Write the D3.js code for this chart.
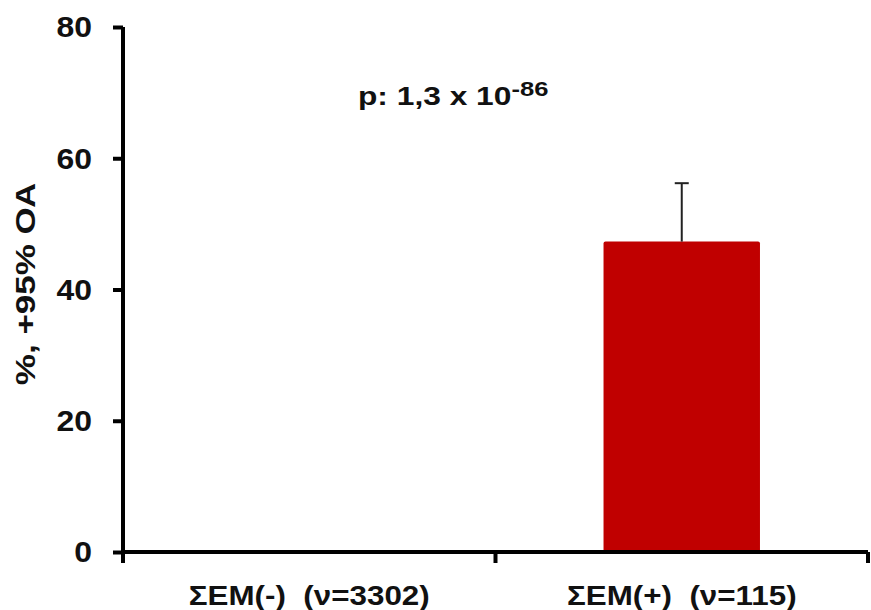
<!DOCTYPE html>
<html>
<head>
<meta charset="utf-8">
<script src="https://cdn.jsdelivr.net/npm/d3@7"></script>
<style>
  body { margin: 0; background: #fff; }
  text { font-family: "Liberation Sans", Arial, sans-serif; font-weight: bold; fill: #111; white-space: pre; }
</style>
</head>
<body>
<div id="chart"></div>
<script>
// data
const categories = ['ΣΕΜ(-)  (ν=3302)', 'ΣΕΜ(+)  (ν=115)'];
const values = [0, 47.3];
const upperCI = [0, 56.2];
const yTicks = [0, 20, 40, 60, 80];

const margin = ({top: 27, right: 3, bottom: 58, left: 123});
const width = 871 - margin.left - margin.right;
const height = 610 - margin.top - margin.bottom;

const svg = d3.select('#chart')
  .append('svg')
  .attr('width', 871)
  .attr('height', 610)
  .append('g')
  .attr('transform', 'translate(' + margin.left + ',' + margin.top + ')');

const xScale = d3.scaleBand()
  .domain(categories)
  .range([0, width])
  .paddingInner(0.58)
  .paddingOuter(0.29);

const xBand = d3.scaleBand().domain(categories).range([0, width]);

const yScale = d3.scaleLinear()
  .domain([0, 80])
  .range([height, 0]);

// bars
svg.selectAll('.bar')
  .data(values)
  .enter()
  .append('rect')
  .attr('class', 'bar')
  .attr('x', (d, i) => xScale(categories[i]))
  .attr('y', d => yScale(d))
  .attr('width', xScale.bandwidth())
  .attr('height', d => height - yScale(d))
  .attr('rx', 2)
  .attr('fill', '#c00000');

// error bars (upper only)
const err = svg.selectAll('.err')
  .data(values.map((v, i) => ({v, hi: upperCI[i], c: categories[i]})).filter(d => d.v > 0))
  .enter()
  .append('g')
  .attr('class', 'err')
  .attr('stroke', '#222')
  .attr('stroke-width', 2);

err.append('line')
  .attr('x1', d => xBand(d.c) + xBand.bandwidth() / 2)
  .attr('x2', d => xBand(d.c) + xBand.bandwidth() / 2)
  .attr('y1', d => yScale(d.v))
  .attr('y2', d => yScale(d.hi));

err.append('line')
  .attr('x1', d => xBand(d.c) + xBand.bandwidth() / 2 - 7)
  .attr('x2', d => xBand(d.c) + xBand.bandwidth() / 2 + 7)
  .attr('y1', d => yScale(d.hi))
  .attr('y2', d => yScale(d.hi));

// y axis
const yAxis = d3.axisLeft(yScale)
  .tickValues(yTicks)
  .tickSize(10)
  .tickPadding(21);

const gy = svg.append('g')
  .attr('class', 'axis y-axis')
  .call(yAxis);
gy.select('.domain').attr('stroke', '#000').attr('stroke-width', 4)
  .attr('d', 'M0,0V' + height);
gy.selectAll('.tick line').attr('stroke', '#000').attr('stroke-width', 4);
gy.selectAll('.tick text')
  .style('font-size', '29px')
  .attr('transform', 'translate(-31,0) scale(1.1,1)')
  .attr('x', 0)
  .attr('dy', '0.34em');

// x axis
const xAxis = d3.axisBottom(xBand).tickSize(0).tickPadding(33);
const gx = svg.append('g')
  .attr('class', 'axis x-axis')
  .attr('transform', 'translate(0,' + height + ')')
  .call(xAxis);
gx.select('.domain').attr('stroke', '#000').attr('stroke-width', 4)
  .attr('d', 'M0,0H' + width);
gx.selectAll('.tick text')
  .style('font-size', '28px')
  .attr('transform', 'scale(1.12,1)')
  .attr('dy', '0.7em');

// category separators on the x axis
gx.selectAll('.sep')
  .data([0, 1, 2])
  .enter()
  .append('line')
  .attr('class', 'sep')
  .attr('x1', i => i === 2 ? width : (i === 0 ? 0 : xBand(categories[i])))
  .attr('x2', i => i === 2 ? width : (i === 0 ? 0 : xBand(categories[i])))
  .attr('y1', 0)
  .attr('y2', 11)
  .attr('stroke', '#000')
  .attr('stroke-width', 4);

// y label
svg.append('text')
  .attr('transform', 'translate(' + (-margin.left + 35) + ',' + (284 - margin.top) + ') rotate(-90) scale(1.25,1)')
  .attr('text-anchor', 'middle')
  .style('font-size', '28px')
  .text('%, +95% ΟΑ');

// p value annotation
const p = svg.append('text')
  .attr('transform', 'translate(' + (358 - margin.left) + ',' + (105 - margin.top) + ') scale(1.22,1)')
  .style('font-size', '26px');
p.append('tspan').text('p: 1,3 x 10');
p.append('tspan').attr('dy', -9).style('font-size', '21px').text('-86');
</script>
</body>
</html>
